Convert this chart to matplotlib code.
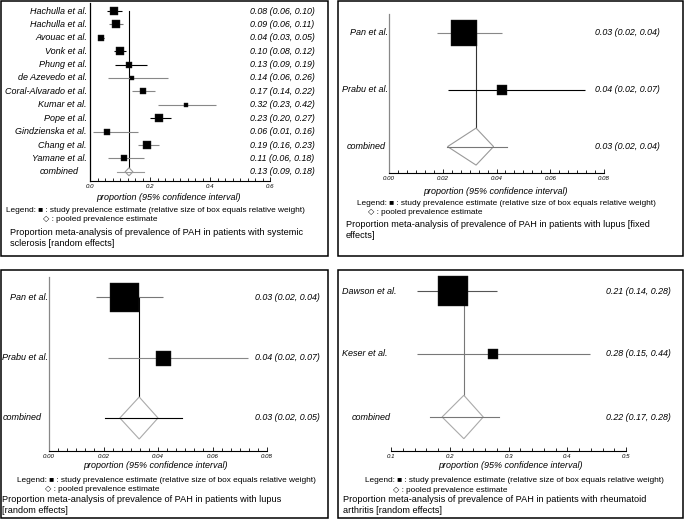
import matplotlib
matplotlib.use("Agg")
import matplotlib.pyplot as plt
from matplotlib.patches import Rectangle, Polygon
from matplotlib.ticker import FixedLocator, MultipleLocator
import matplotlib.transforms as mtransforms

plt.rcParams['font.family'] = ['Liberation Sans', 'DejaVu Sans']

W, H = 685, 520

# ---------------- data ----------------
# Panel 1: systemic sclerosis [random effects]
ssc_studies = ["Hachulla et al.", "Hachulla et al.", "Avouac et al.", "Vonk et al.",
               "Phung et al.", "de Azevedo et al.", "Coral-Alvarado et al.", "Kumar et al.",
               "Pope et al.", "Gindzienska et al.", "Chang et al.", "Yamane et al."]
ssc_est = [0.080, 0.087, 0.036, 0.099, 0.130, 0.140, 0.175, 0.320, 0.229, 0.056, 0.190, 0.113]
ssc_lo = [0.057, 0.063, 0.030, 0.080, 0.083, 0.060, 0.140, 0.225, 0.200, 0.010, 0.160, 0.060]
ssc_hi = [0.106, 0.110, 0.046, 0.120, 0.190, 0.260, 0.215, 0.420, 0.270, 0.160, 0.230, 0.180]
ssc_weight = [7.3, 7.3, 6.3, 7.3, 6.7, 5.0, 6.7, 5.0, 8.3, 6.0, 8.3, 6.0]
ssc_text = ["0.08 (0.06, 0.10)", "0.09 (0.06, 0.11)", "0.04 (0.03, 0.05)", "0.10 (0.08, 0.12)",
            "0.13 (0.09, 0.19)", "0.14 (0.06, 0.26)", "0.17 (0.14, 0.22)", "0.32 (0.23, 0.42)",
            "0.23 (0.20, 0.27)", "0.06 (0.01, 0.16)", "0.19 (0.16, 0.23)", "0.11 (0.06, 0.18)"]
ssc_pooled = 0.130
ssc_pooled_ci = (0.089, 0.180)
ssc_diamond = (0.117, 0.143)
ssc_pooled_text = "0.13 (0.09, 0.18)"
ssc_ticks = [0.0, 0.2, 0.4, 0.6]

# Panel 2: lupus [fixed effects]
lupus_studies = ["Pan et al.", "Prabu et al."]
lupf_est = [0.028, 0.042]
lupf_lo = [0.0177, 0.0220]
lupf_hi = [0.0420, 0.0730]
lupf_weight = [26.7, 10.7]
lupf_text = ["0.03 (0.02, 0.04)", "0.04 (0.02, 0.07)"]
lupf_pooled = 0.0324
lupf_pooled_ci = (0.0217, 0.0440)
lupf_diamond = (0.0218, 0.0389)
lupf_pooled_text = "0.03 (0.02, 0.04)"

# Panel 3: lupus [random effects]
lupr_est = [0.0276, 0.0420]
lupr_lo = [0.0172, 0.0215]
lupr_hi = [0.0420, 0.0730]
lupr_weight = [29.0, 15.0]
lupr_text = ["0.03 (0.02, 0.04)", "0.04 (0.02, 0.07)"]
lupr_pooled = 0.0331
lupr_pooled_ci = (0.0206, 0.0487)
lupr_diamond = (0.0260, 0.0400)
lupr_pooled_text = "0.03 (0.02, 0.05)"
lupus_ticks = [0.00, 0.02, 0.04, 0.06, 0.08]

# Panel 4: rheumatoid arthritis [random effects]
ra_studies = ["Dawson et al.", "Keser et al."]
ra_est = [0.206, 0.274]
ra_lo = [0.144, 0.145]
ra_hi = [0.280, 0.438]
ra_weight = [30.7, 9.3]
ra_text = ["0.21 (0.14, 0.28)", "0.28 (0.15, 0.44)"]
ra_pooled = 0.224
ra_pooled_ci = (0.166, 0.284)
ra_diamond = (0.187, 0.257)
ra_pooled_text = "0.22 (0.17, 0.28)"
ra_ticks = [0.1, 0.2, 0.3, 0.4, 0.5]

legend1 = "Legend: \u25A0 : study prevalence estimate (relative size of box equals relative weight)"
legend2 = "\u25C7 : pooled prevalence estimate"
xlabel = "proportion (95% confidence interval)"

# ---------------- drawing ----------------
fig = plt.figure(figsize=(W / 100, H / 100), dpi=100)


def fx(px):
    return px / W


def fy(py):
    return 1 - py / H


def frame(x0, y0, x1, y1):
    fig.patches.append(Rectangle((fx(x0), fy(y1)), fx(x1) - fx(x0), fy(y0) - fy(y1),
                                 transform=fig.transFigure, fill=False, ec='black', lw=1.1))


def forest(studies, est, lo, hi, weight, texts, pooled, pooled_ci, diamond, pooled_text,
           ticks, tickfmt, minor, L):
    ax = fig.add_axes([fx(L['x0']), fy(L['ybot']), fx(L['x1']) - fx(L['x0']),
                       (L['ybot'] - L['ytop']) / H])
    ax.set_xlim(ticks[0], ticks[-1])
    ax.set_ylim((L['ybot'] - L['row0']) / L['dy'], (L['ytop'] - L['row0']) / L['dy'])
    ax.patch.set_visible(False)
    for s in ['top', 'right']:
        ax.spines[s].set_visible(False)
    ax.spines['left'].set_visible(L['spine'] is not None)
    if L['spine'] is not None:
        ax.spines['left'].set_color(L['spine'])
    ax.spines['left'].set_linewidth(0.9)
    ax.spines['bottom'].set_linewidth(0.8)
    ax.xaxis.set_major_locator(FixedLocator(ticks))
    ax.xaxis.set_minor_locator(MultipleLocator(minor))
    ax.set_xticklabels([tickfmt.format(t) for t in ticks], style='italic')
    ax.tick_params(axis='x', which='major', direction='in', length=3.2, width=0.6,
                   labelsize=4.4, pad=2)
    ax.tick_params(axis='x', which='minor', direction='in', length=2, width=0.6)
    ax.tick_params(axis='y', left=False, labelleft=False)

    n = len(studies)
    tr = mtransforms.blended_transform_factory(fig.transFigure, ax.transData)
    # reference line at pooled estimate
    ax.plot([pooled, pooled], [0, n], color=L['ref'], lw=0.8, zorder=1, clip_on=False)
    for i in range(n):
        ax.plot([lo[i], hi[i]], [i, i], color=L['ci'][i], lw=0.8, zorder=2,
                solid_capstyle='butt', clip_on=False)
        ax.plot(est[i], i, marker='s', ms=weight[i] * 0.72, mfc='black', mec='#222',
                mew=0.3, ls='none', zorder=3, clip_on=False)
        ax.text(fx(L['lab_x']), i, studies[i], ha=L['lab_ha'], va='center', style='italic',
                fontsize=6.5, transform=tr)
        ax.text(fx(L['est_x']), i, texts[i], ha='left', va='center', style='italic',
                fontsize=6.4, transform=tr)
    hh = L['dh'] / L['dy']
    ax.add_patch(Polygon([(diamond[0], n), (pooled, n - hh), (diamond[1], n), (pooled, n + hh)],
                         closed=True, fc='white', ec=L['dia'], lw=0.8, zorder=2.5, clip_on=False))
    ax.plot(list(pooled_ci), [n, n], color=L['pci'], lw=0.8, zorder=4, clip_on=False)
    ax.text(fx(L['comb_x']), n, 'combined', ha=L['comb_ha'], va='center', style='italic',
            fontsize=6.5, transform=tr)
    ax.text(fx(L['est_x']), n, pooled_text, ha='left', va='center', style='italic',
            fontsize=6.4, transform=tr)

    fig.text(fx(L['xl'][0]), fy(L['xl'][1]), xlabel, ha='center', va='center',
             style='italic', fontsize=6.5)
    fig.text(fx(L['leg1'][0]), fy(L['leg1'][1]), legend1, ha='left', va='center', fontsize=5.95)
    fig.text(fx(L['leg2'][0]), fy(L['leg2'][1]), legend2, ha='left', va='center', fontsize=5.95)
    fig.text(fx(L['cap'][0]), fy(L['cap'][1]), L['caption'], ha='left', va='top',
             fontsize=6.6, linespacing=1.3)
    return ax


frame(1, 1, 328, 256)
frame(338, 1, 683, 256)
frame(1, 270, 328, 518)
frame(338, 270, 683, 518)

forest(ssc_studies, ssc_est, ssc_lo, ssc_hi, ssc_weight, ssc_text, ssc_pooled, ssc_pooled_ci,
       ssc_diamond, ssc_pooled_text, ssc_ticks, "{:.1f}", 0.025,
       dict(x0=90, x1=270, ytop=3, ybot=181, row0=11, dy=13.4, spine='black', ref='black',
            ci=['black', '#777', 'black', 'black', 'black', '#888', '#888', '#888', 'black',
                '#888', '#888', '#888'],
            dia='#999', pci='#999', dh=4.0, lab_x=87, lab_ha='right', comb_x=79, comb_ha='right',
            est_x=250, xl=(168, 197), leg1=(6, 211), leg2=(43, 219), cap=(10, 228),
            caption="Proportion meta-analysis of prevalence of PAH in patients with systemic\nsclerosis [random effects]"))

forest(lupus_studies, lupf_est, lupf_lo, lupf_hi, lupf_weight, lupf_text, lupf_pooled,
       lupf_pooled_ci, lupf_diamond, lupf_pooled_text, lupus_ticks, "{:.2f}", 0.02 / 6,
       dict(x0=389, x1=604, ytop=14, ybot=173, row0=33, dy=56.8, spine='#888', ref='#333',
            ci=['#888', 'black'], dia='#999', pci='#777', dh=18.5, lab_x=388, lab_ha='right',
            comb_x=386, comb_ha='right', est_x=595, xl=(495, 191), leg1=(357, 204),
            leg2=(368, 212), cap=(346, 220),
            caption="Proportion meta-analysis of prevalence of PAH in patients with lupus [fixed\neffects]"))

forest(lupus_studies, lupr_est, lupr_lo, lupr_hi, lupr_weight, lupr_text, lupr_pooled,
       lupr_pooled_ci, lupr_diamond, lupr_pooled_text, lupus_ticks, "{:.2f}", 0.02 / 6,
       dict(x0=49, x1=267, ytop=277, ybot=451, row0=297, dy=60.5, spine='#888', ref='black',
            ci=['#777', '#888'], dia='#aaa', pci='black', dh=21, lab_x=48, lab_ha='right',
            comb_x=42, comb_ha='right', est_x=255, xl=(155, 465), leg1=(17, 480),
            leg2=(45, 489), cap=(2, 495),
            caption="Proportion meta-analysis of prevalence of PAH in patients with lupus\n[random effects]"))

forest(ra_studies, ra_est, ra_lo, ra_hi, ra_weight, ra_text, ra_pooled, ra_pooled_ci,
       ra_diamond, ra_pooled_text, ra_ticks, "{:.1f}", 0.02,
       dict(x0=391, x1=626, ytop=275, ybot=451, row0=291, dy=63, spine=None, ref='#777',
            ci=['#555', '#777'], dia='#aaa', pci='#777', dh=21.7, lab_x=342, lab_ha='left',
            comb_x=352, comb_ha='left', est_x=606, xl=(510, 465), leg1=(365, 480),
            leg2=(393, 490), cap=(343, 495),
            caption="Proportion meta-analysis of prevalence of PAH in patients with rheumatoid\narthritis [random effects]"))

fig.savefig("out.png", dpi=100)
